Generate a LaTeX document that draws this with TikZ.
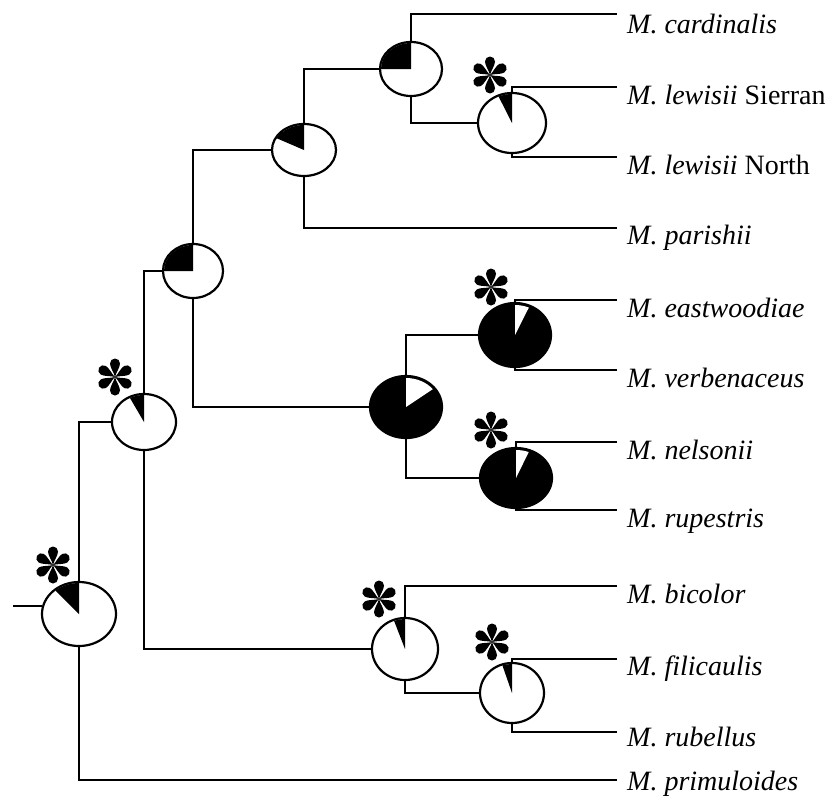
\documentclass[tikz,border=0pt]{standalone}
\usepackage{fontspec}
\setmainfont{Liberation Serif}
\usetikzlibrary{shapes.geometric,calc}
\tikzset{
  pie/.style={ellipse,draw=black,line width=2.2pt,fill=white,inner sep=0pt},
  darkpie/.style={pie,fill=black},
  branch/.style={draw=black,line width=2.2pt},
  lab/.style={anchor=base west,inner sep=0pt,font=\fontsize{28}{30}\selectfont},
  astpic/.pic={
    \foreach \a in {0,60,...,300}{
      \fill[black,rotate=\a] (0,0) .. controls (-0.8,4) and (-5,9.5) .. (-5,13.5)
        arc[start angle=180,end angle=0,radius=5pt] .. controls (5,9.5) and (0.8,4) .. (0,0);
    }
  }
}
\begin{document}
\begin{tikzpicture}[x=1pt,y=1pt]
\useasboundingbox (0,0) rectangle (832,-798);

% pies
\node[pie,minimum width=74pt,minimum height=64pt] (R) at (79,-614) {};
\fill (R.center) -- +(90:36 and 31) arc[start angle=90,end angle=131,x radius=36pt,y radius=31pt] -- cycle;

\node[pie,minimum width=64pt,minimum height=56pt] (P2) at (144,-422) {};
\fill (P2.center) -- +(90:31 and 27) arc[start angle=90,end angle=117,x radius=31pt,y radius=27pt] -- cycle;

\node[pie,minimum width=60pt,minimum height=54pt] (P3) at (193,-271) {};
\fill (P3.center) -- +(90:29 and 26) arc[start angle=90,end angle=180,x radius=29pt,y radius=26pt] -- cycle;

\node[pie,minimum width=64pt,minimum height=52pt] (P4) at (304,-150) {};
\fill (P4.center) -- +(90:31 and 25) arc[start angle=90,end angle=152,x radius=31pt,y radius=25pt] -- cycle;

\node[pie,minimum width=62pt,minimum height=54pt] (P5) at (411,-69) {};
\fill (P5.center) -- +(90:30 and 26) arc[start angle=90,end angle=180,x radius=30pt,y radius=26pt] -- cycle;

\node[pie,minimum width=68pt,minimum height=60pt] (P6) at (512,-123) {};
\fill (P6.center) -- +(90:33 and 29) arc[start angle=90,end angle=114,x radius=33pt,y radius=29pt] -- cycle;

\node[darkpie,minimum width=72pt,minimum height=62pt] (P7) at (406,-407) {};
\fill[white] (P7.center) -- +(38:34 and 29) arc[start angle=38,end angle=90,x radius=34pt,y radius=29pt] -- cycle;

\node[darkpie,minimum width=72pt,minimum height=64pt] (P8) at (515,-335) {};
\fill[white] (P8.center) -- +(66:34 and 30) arc[start angle=66,end angle=90,x radius=34pt,y radius=30pt] -- cycle;

\node[darkpie,minimum width=72pt,minimum height=60pt] (P9) at (516,-478) {};
\fill[white] (P9.center) -- +(68:34 and 28) arc[start angle=68,end angle=90,x radius=34pt,y radius=28pt] -- cycle;

\node[pie,minimum width=66pt,minimum height=62pt] (P10) at (405,-649) {};
\fill (P10.center) -- +(90:32 and 30) arc[start angle=90,end angle=110,x radius=32pt,y radius=30pt] -- cycle;

\node[pie,minimum width=64pt,minimum height=60pt] (P11) at (512,-693) {};
\fill (P11.center) -- +(90:31 and 29) arc[start angle=90,end angle=108,x radius=31pt,y radius=29pt] -- cycle;

% asterisks
\pic (aR) at (53,-565) {astpic};
\pic (a2) at (115,-377) {astpic};
\pic (a6) at (490,-75) {astpic};
\pic (a8) at (491,-287) {astpic};
\pic (a9) at (491,-430) {astpic};
\pic (a10) at (379,-599) {astpic};
\pic (a11) at (492,-642) {astpic};

% branch ends
\coordinate (stubx) at (13,0);
\coordinate (ecard) at (617,-14);
\coordinate (esier) at (617,-87);
\coordinate (enorth) at (617,-157);
\coordinate (epar) at (617,-228);
\coordinate (eeast) at (617,-300);
\coordinate (everb) at (617,-370);
\coordinate (enels) at (617,-442);
\coordinate (erup) at (617,-510);
\coordinate (ebic) at (617,-586);
\coordinate (efil) at (617,-659);
\coordinate (erub) at (617,-732);
\coordinate (eprim) at (617,-780);

% branches
\draw[branch] (R.168) -- (R.168 -| stubx);
\draw[branch] (R.north) |- (P2.west);
\draw[branch] (R.south) |- (eprim);
\draw[branch] (P2.north) |- (P3.west);
\draw[branch] (P2.south) |- (P10.west);
\draw[branch] (P3.north) |- (P4.west);
\draw[branch] (P3.south) |- (P7.west);
\draw[branch] (P4.north) |- (P5.west);
\draw[branch] (P4.south) |- (epar);
\draw[branch] (P5.north) |- (ecard);
\draw[branch] (P5.south) |- (P6.west);
\draw[branch] (P6.north) |- (esier);
\draw[branch] (P6.south) |- (enorth);
\draw[branch] (P7.north) |- (P8.west);
\draw[branch] (P7.south) |- (P9.west);
\draw[branch] (P8.north) |- (eeast);
\draw[branch] (P8.south) |- (everb);
\draw[branch] (P9.north) |- (enels);
\draw[branch] (P9.south) |- (erup);
\draw[branch] (P10.north) |- (ebic);
\draw[branch] (P10.south) |- (P11.west);
\draw[branch] (P11.north) |- (efil);
\draw[branch] (P11.south) |- (erub);

% labels
\node[lab] (tcard) at (627,-33) {\textit{M. cardinalis}};
\node[lab] (tsier) at (627,-104) {\textit{M. lewisii} Sierran};
\node[lab] (tnorth) at (627,-174) {\textit{M. lewisii} North};
\node[lab] (tpar) at (627,-244) {\textit{M. parishii}};
\node[lab] (teast) at (627,-317) {\textit{M. eastwoodiae}};
\node[lab] (tverb) at (627,-387) {\textit{M. verbenaceus}};
\node[lab] (tnels) at (627,-459) {\textit{M. nelsonii}};
\node[lab] (trup) at (627,-527) {\textit{M. rupestris}};
\node[lab] (tbic) at (627,-603) {\textit{M. bicolor}};
\node[lab] (tfil) at (627,-675) {\textit{M. filicaulis}};
\node[lab] (trub) at (627,-746) {\textit{M. rubellus}};
\node[lab] (tprim) at (627,-790) {\textit{M. primuloides}};
\end{tikzpicture}
\end{document}
